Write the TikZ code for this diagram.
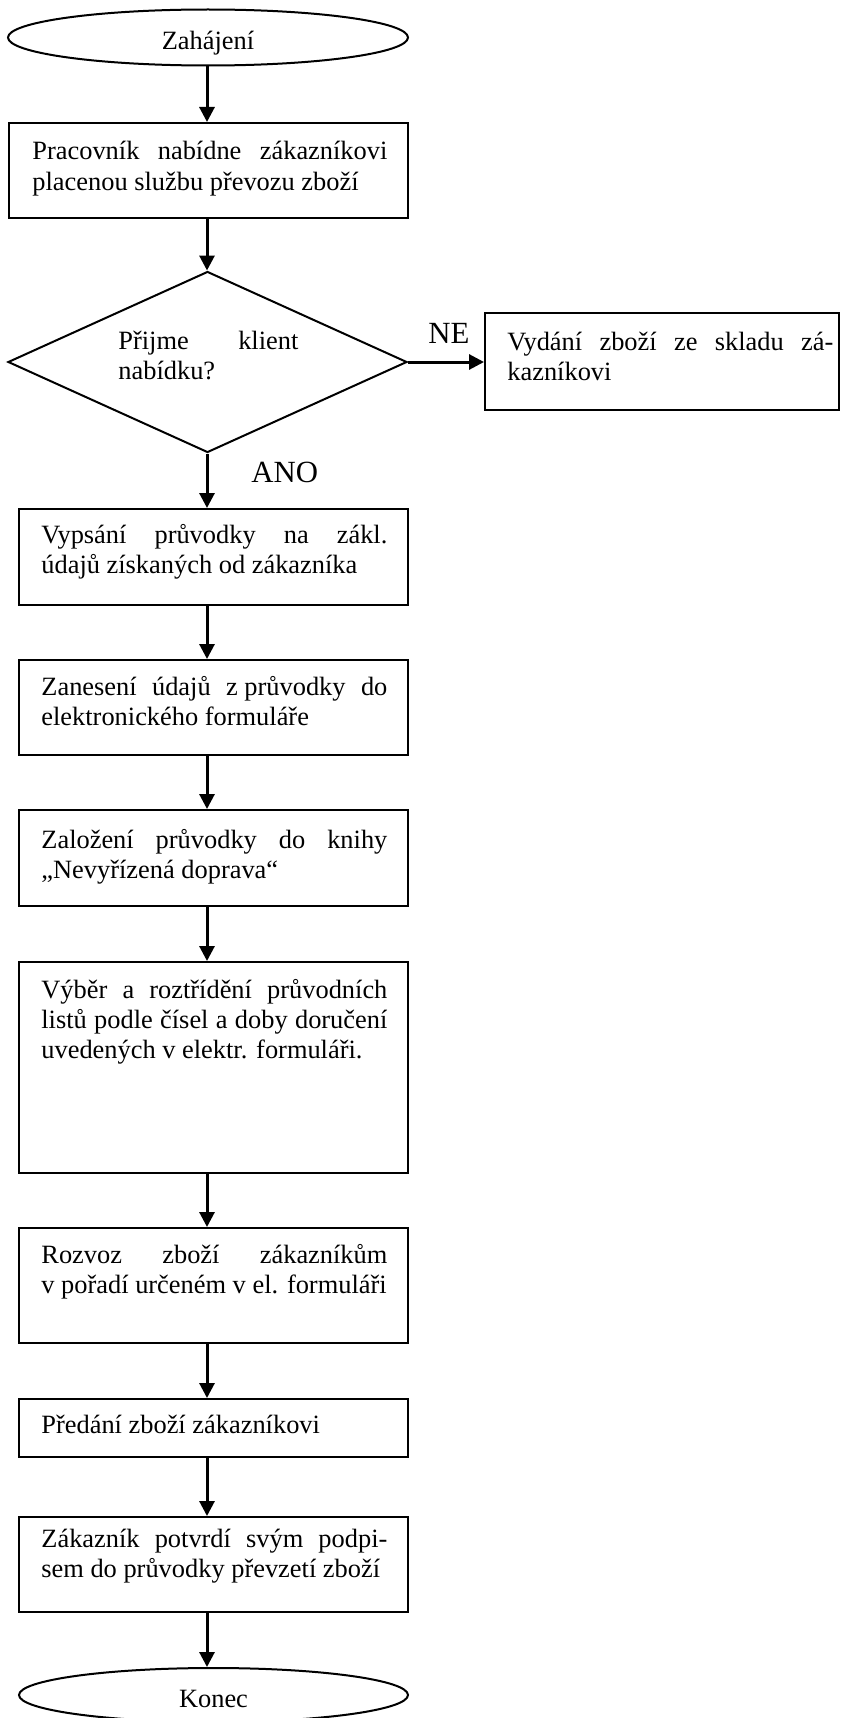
\documentclass[tikz,border=0pt]{standalone}
\usepackage{fontspec}
\setmainfont{Liberation Serif}
\usetikzlibrary{arrows.meta,shapes.geometric}

% a fully justified line inside a text block
\newcommand{\jline}[1]{\makebox[\linewidth][s]{#1}}

\begin{document}
\begin{tikzpicture}[x=0.5pt,y=-0.5pt,
  outline/.style={draw=black, line width=1pt},
  procbox/.style={outline, rectangle, inner sep=0pt},
  terminal/.style={outline, ellipse, inner sep=0pt,
    font=\fontsize{13.2}{15}\selectfont, text height=12.5pt, text depth=0pt},
  decision/.style={outline, diamond, inner sep=0pt},
  boxtext/.style={anchor=base west, inner sep=0pt, font=\fontsize{13.2}{15}\selectfont},
  flowlabel/.style={anchor=base west, inner sep=0pt, font=\fontsize{15.4}{18}\selectfont},
  arr/.style={line width=1.5pt, -{Triangle[length=7.5pt,width=7.5pt]}}
]
\path[fill=white] (0,0) rectangle (841,1718);
\useasboundingbox (0,0) rectangle (841,1718);

% vertical axis of the main flow
\coordinate (ax) at (207,0);

% shapes
\node[terminal, minimum width=200pt, minimum height=28pt] (start) at (208,37.5) {Zahájení};
\node[procbox, minimum width=199.5pt, minimum height=47.5pt] (b1) at (208.5,170.5) {};
\node[decision, minimum width=199.5pt, minimum height=90.5pt] (d) at (207.5,362) {};
\node[procbox, minimum width=177pt, minimum height=48.5pt] (bne) at (662,361.5) {};
\node[procbox, minimum width=194.5pt, minimum height=48pt] (b2) at (213.5,557) {};
\node[procbox, minimum width=194.5pt, minimum height=47.5pt] (b3) at (213.5,707.5) {};
\node[procbox, minimum width=194.5pt, minimum height=48pt] (b4) at (213.5,858) {};
\node[procbox, minimum width=194.5pt, minimum height=105.5pt] (b5) at (213.5,1067.5) {};
\node[procbox, minimum width=194.5pt, minimum height=57.5pt] (b6) at (213.5,1285.5) {};
\node[procbox, minimum width=194.5pt, minimum height=29pt] (b7) at (213.5,1428) {};
\node[procbox, minimum width=194.5pt, minimum height=47.5pt] (b8) at (213.5,1564.5) {};
\node[terminal, minimum width=194.5pt, minimum height=27pt] (stop) at (213.5,1695) {Konec};

% texts
\node[boxtext] (t1) at (32,160) {\parbox[t]{177.5pt}{\jline{Pracovník nabídne zákazníkovi}\\placenou službu převozu zboží}};
\node[boxtext] (td) at (118,349) {\parbox[t]{90pt}{\jline{Přijme klient}\\nabídku?}};
\node[boxtext] (tne) at (507,350) {\parbox[t]{163pt}{\jline{Vydání zboží ze skladu zá-}\\kazníkovi}};
\node[boxtext] (t2) at (41,543) {\parbox[t]{173pt}{\jline{Vypsání průvodky na zákl.}\\údajů získaných od zákazníka}};
\node[boxtext] (t3) at (41,695) {\parbox[t]{173pt}{\jline{Zanesení údajů z\kern.25em průvodky do}\\elektronického formuláře}};
\node[boxtext] (t4) at (41,848) {\parbox[t]{173pt}{\jline{Založení průvodky do knihy}\\„Nevyřízená doprava“}};
\node[boxtext] (t5) at (41,998) {\parbox[t]{173pt}{\jline{Výběr a roztřídění průvodních}\\\jline{listů podle čísel a doby doručení}\\uvedených v elektr. formuláři.}};
\node[boxtext] (t6) at (41,1263) {\parbox[t]{173pt}{\jline{Rozvoz zboží zákazníkům}\\v pořadí určeném v el. formuláři}};
\node[boxtext] (t7) at (41,1433) {\parbox[t]{173pt}{Předání zboží zákazníkovi}};
\node[boxtext] (t8) at (41,1547) {\parbox[t]{173pt}{\jline{Zákazník potvrdí svým podpi-}\\sem do průvodky převzetí zboží}};

% branch labels
\node[flowlabel] (lne) at (428,343) {NE};
\node[flowlabel] (lano) at (251,482) {ANO};

% connectors
\draw[arr] (start.south -| ax) -- (b1.north -| ax);
\draw[arr] (b1.south -| ax) -- (d.north -| ax);
\draw[arr] (d.south -| ax) -- (b2.north -| ax);
\draw[arr] (d.east) -- (d.east -| bne.west);
\draw[arr] (b2.south -| ax) -- (b3.north -| ax);
\draw[arr] (b3.south -| ax) -- (b4.north -| ax);
\draw[arr] (b4.south -| ax) -- (b5.north -| ax);
\draw[arr] (b5.south -| ax) -- (b6.north -| ax);
\draw[arr] (b6.south -| ax) -- (b7.north -| ax);
\draw[arr] (b7.south -| ax) -- (b8.north -| ax);
\draw[arr] (b8.south -| ax) -- (stop.north -| ax);
\end{tikzpicture}
\end{document}
